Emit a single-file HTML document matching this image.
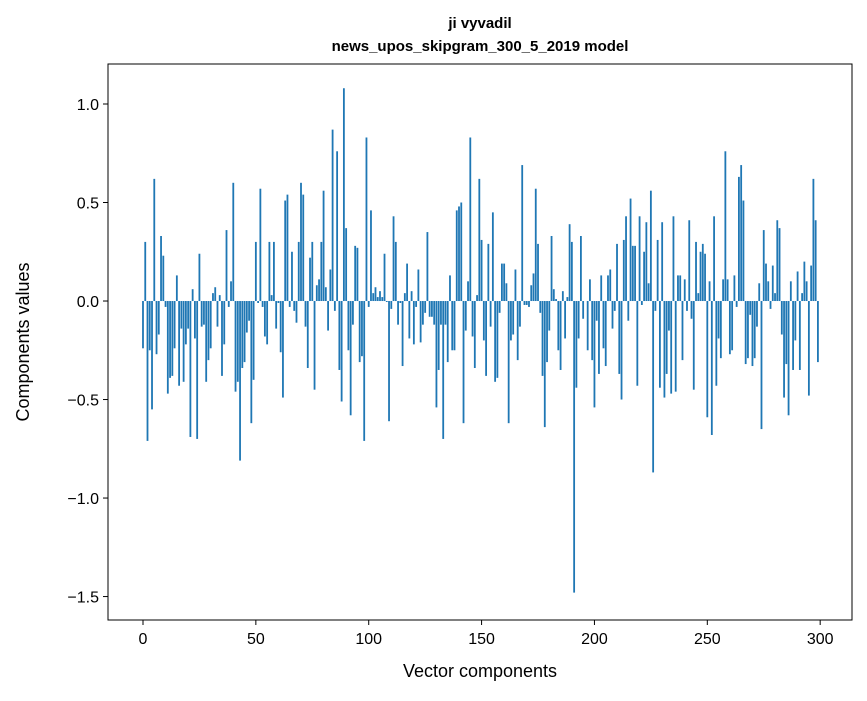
<!DOCTYPE html>
<html><head><meta charset="utf-8"><style>
body{margin:0;background:#fff;}
svg text{font-family:"Liberation Sans","DejaVu Sans",sans-serif;fill:#000;}
</style></head><body>
<svg id="chart" width="867" height="696" viewBox="0 0 867 696">
<rect width="867" height="696" fill="#fff"/>
<text x="480" y="28" text-anchor="middle" font-size="15" font-weight="bold">ji vyvadil</text>
<text x="480" y="51" text-anchor="middle" font-size="15" font-weight="bold">news_upos_skipgram_300_5_2019 model</text>
<g id="bars"></g>
<g id="xticks"></g>
<g id="yticks"></g>
<rect x="108" y="64" width="744" height="556" fill="none" stroke="#000" stroke-width="1"/>
<text x="480" y="677" text-anchor="middle" font-size="18">Vector components</text>
<text transform="translate(29,342) rotate(-90)" text-anchor="middle" font-size="18">Components values</text>
</svg>
<script>
const values = [
-0.24,0.30,-0.71,-0.25,-0.55,0.62,-0.27,-0.17,0.33,0.23,
-0.03,-0.47,-0.39,-0.38,-0.24,0.13,-0.43,-0.14,-0.41,-0.22,
-0.14,-0.69,0.06,-0.19,-0.70,0.24,-0.13,-0.12,-0.41,-0.30,
-0.24,0.04,0.07,-0.13,0.03,-0.38,-0.22,0.36,-0.03,0.10,
0.60,-0.46,-0.41,-0.81,-0.34,-0.31,-0.16,-0.10,-0.62,-0.40,
0.30,-0.01,0.57,-0.03,-0.18,-0.22,0.30,0.03,0.30,-0.14,
-0.01,-0.26,-0.49,0.51,0.54,-0.03,0.25,-0.05,-0.11,0.30,
0.60,0.54,-0.13,-0.34,0.22,0.30,-0.45,0.08,0.11,0.30,
0.56,0.07,-0.15,0.16,0.87,-0.05,0.76,-0.35,-0.51,1.08,
0.37,-0.25,-0.58,-0.12,0.28,0.27,-0.31,-0.28,-0.71,0.83,
-0.03,0.46,0.04,0.07,0.02,0.05,0.02,0.24,-0.005,-0.61,
-0.04,0.43,0.30,-0.12,-0.01,-0.33,0.04,0.19,-0.19,0.05,
-0.22,-0.03,0.16,-0.21,-0.12,-0.06,0.35,-0.08,-0.08,-0.12,
-0.54,-0.35,-0.12,-0.70,-0.12,-0.31,0.13,-0.25,-0.25,0.46,
0.48,0.50,-0.62,-0.15,0.10,0.83,-0.18,-0.34,0.03,0.62,
0.31,-0.20,-0.38,0.29,-0.13,0.45,-0.41,-0.39,-0.06,0.19,
0.19,0.09,-0.62,-0.20,-0.17,0.16,-0.30,-0.13,0.69,-0.02,
-0.02,-0.03,0.08,0.14,0.57,0.29,-0.06,-0.38,-0.64,-0.31,
-0.15,0.33,0.06,0.01,-0.25,-0.35,0.05,-0.19,0.02,0.39,
0.30,-1.48,-0.44,-0.19,0.33,-0.09,0.0,-0.25,0.11,-0.30,
-0.54,-0.10,-0.37,0.13,-0.24,-0.33,0.13,0.16,-0.14,-0.05,
0.29,-0.37,-0.50,0.31,0.43,-0.10,0.52,0.28,0.28,-0.43,
0.43,-0.02,0.25,0.40,0.09,0.56,-0.87,-0.05,0.31,-0.44,
0.40,-0.49,-0.37,-0.15,-0.47,0.43,-0.46,0.13,0.13,-0.30,
0.11,-0.05,0.41,-0.09,-0.45,0.30,0.04,0.25,0.29,0.24,
-0.59,0.10,-0.68,0.43,-0.43,-0.19,-0.29,0.11,0.76,0.11,
-0.27,-0.25,0.13,-0.03,0.63,0.69,0.51,-0.32,-0.29,-0.07,
-0.33,-0.29,-0.13,0.09,-0.65,0.36,0.19,0.10,-0.04,0.18,
0.04,0.41,0.37,-0.17,-0.49,-0.32,-0.58,0.10,-0.35,-0.20,
0.15,-0.35,0.04,0.20,0.10,-0.48,0.18,0.62,0.41,-0.31
];
const xTickValues = [0,50,100,150,200,250,300];
const yTickValues = [1.0,0.5,0.0,-0.5,-1.0,-1.5];
const yTickLabels = ["1.0","0.5","0.0","\u22120.5","\u22121.0","\u22121.5"];

const NS="http://www.w3.org/2000/svg";
const L=108,R=852,T=64,B=620;
const xMin=-15.5,xMax=314.1,yMin=-1.619,yMax=1.203;
function xs(v){return L+(v-xMin)/(xMax-xMin)*(R-L);}
function ys(v){return B-(v-yMin)/(yMax-yMin)*(B-T);}
const gb=document.getElementById('bars');
values.forEach((v,i)=>{
  const r=document.createElementNS(NS,'rect');
  const x0=xs(i-0.4),x1=xs(i+0.4);
  const y0=ys(Math.max(v,0)),y1=ys(Math.min(v,0));
  r.setAttribute('x',x0);r.setAttribute('width',x1-x0);
  r.setAttribute('y',y0);r.setAttribute('height',Math.max(y1-y0,0.01));
  r.setAttribute('fill','#1f77b4');
  
  
  gb.appendChild(r);
});
const gx=document.getElementById('xticks');
xTickValues.forEach(v=>{
  const x=xs(v);
  const l=document.createElementNS(NS,'line');
  l.setAttribute('x1',x);l.setAttribute('x2',x);l.setAttribute('y1',B);l.setAttribute('y2',B+5);
  l.setAttribute('stroke','#000');
  
  
  gx.appendChild(l);
  const t=document.createElementNS(NS,'text');
  t.setAttribute('x',x);t.setAttribute('y',B+24);t.setAttribute('text-anchor','middle');t.setAttribute('font-size','16');
  t.textContent=String(v);
  
  
  gx.appendChild(t);
});
const gy=document.getElementById('yticks');
yTickValues.forEach((v,k)=>{
  const y=ys(v);
  const l=document.createElementNS(NS,'line');
  l.setAttribute('x1',L-5);l.setAttribute('x2',L);l.setAttribute('y1',y);l.setAttribute('y2',y);
  l.setAttribute('stroke','#000');
  
  
  gy.appendChild(l);
  const t=document.createElementNS(NS,'text');
  t.setAttribute('x',L-9);t.setAttribute('y',y+6);t.setAttribute('text-anchor','end');t.setAttribute('font-size','16');
  t.textContent=yTickLabels[k];
  
  
  gy.appendChild(t);
});
</script>
</body></html>
